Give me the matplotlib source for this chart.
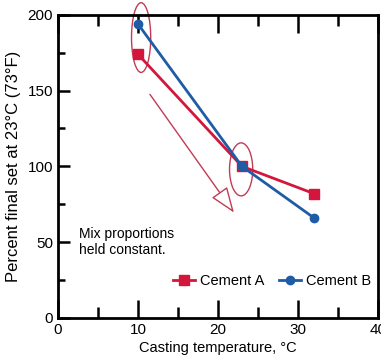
import matplotlib
matplotlib.use("Agg")
import matplotlib.pyplot as plt
from matplotlib.patches import Ellipse

temps = [10, 23, 32]
cement_a = [174, 100, 82]
cement_b = [194, 100, 66]

plt.rcParams['font.family'] = ['Liberation Sans', 'DejaVu Sans']

fig = plt.figure(figsize=(3.81, 3.62), dpi=100)
ax = fig.add_axes([0.152, 0.122, 0.84, 0.837])

red = '#d4163c'
blue = '#1f5ca6'
ax.plot(temps, cement_a, color=red, lw=2, marker='s', ms=7, label='Cement A')
ax.plot(temps, cement_b, color=blue, lw=2, marker='o', ms=6, label='Cement B')

ax.set_xlim(0, 40)
ax.set_ylim(0, 200)
ax.set_xticks([0, 10, 20, 30, 40])
ax.set_xticks([5, 15, 25, 35], minor=True)
ax.set_yticks([0, 50, 100, 150, 200])
ax.set_yticks([25, 75, 125, 175], minor=True)
ax.tick_params(which='both', direction='in', top=True, right=False, width=1.8,
               labelsize=11, colors='black')
ax.tick_params(axis='x', which='major', length=13)
ax.tick_params(axis='x', which='minor', length=8)
ax.tick_params(axis='y', which='major', length=8.5)
ax.tick_params(axis='y', which='minor', length=5)
for s in ax.spines.values():
    s.set_linewidth(2)

ax.set_xlabel('Casting temperature, °C', fontsize=10.5, labelpad=3)
ax.set_ylabel('Percent final set at 23°C (73°F)', fontsize=12, labelpad=5)

ax.text(0.065, 0.30, 'Mix proportions\nheld constant.', transform=ax.transAxes,
        fontsize=10, va='top', linespacing=1.2)
ax.legend(loc='center right', bbox_to_anchor=(1.02, 0.122), ncol=2, frameon=False,
          fontsize=10.5, handlelength=1.5, handletextpad=0.35, columnspacing=1.0)

# hand-drawn pen marks on the scan
pen = '#c23b55'
ax.add_patch(Ellipse((10.4, 185), 2.4, 46, fill=False, ec=pen, lw=1, clip_on=False))
ax.add_patch(Ellipse((22.9, 98), 2.9, 35, fill=False, ec=pen, lw=1))
ax.annotate('', xy=(22.2, 68), xytext=(11.3, 149),
            arrowprops=dict(arrowstyle='-|>,head_length=1.6,head_width=0.6',
                            color=pen, lw=1, fc='white'))

fig.savefig('out.png', dpi=100)
